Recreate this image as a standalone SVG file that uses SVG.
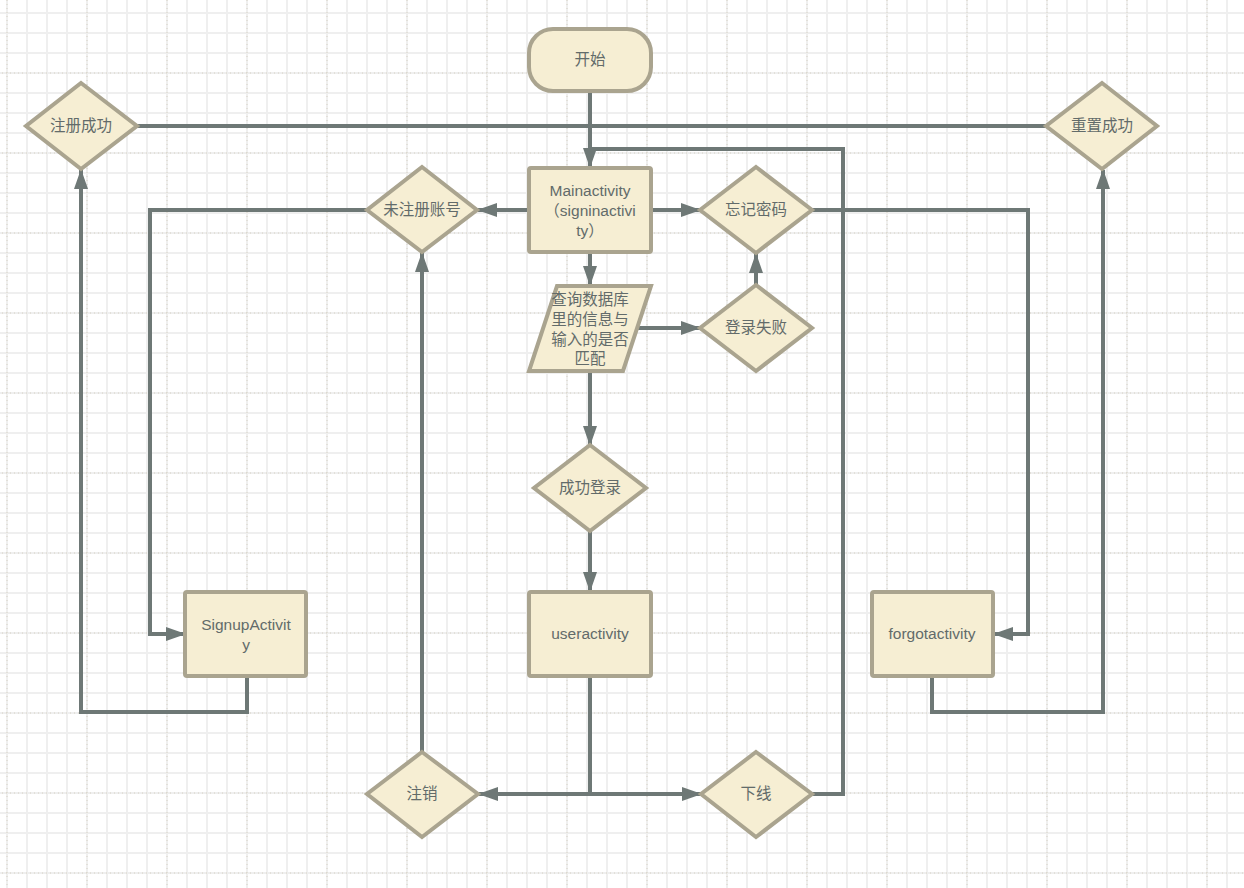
<svg xmlns="http://www.w3.org/2000/svg" width="1244" height="888" viewBox="0 0 1244 888">
<style>
.n{fill:#f6eed3;stroke:#aaa48f;stroke-width:4;stroke-linejoin:miter}
.t{font-family:"Liberation Sans","Noto Sans CJK SC",sans-serif;font-size:15.5px;fill:#626b6a;text-anchor:middle}
.c{fill:none;stroke:#6e7876;stroke-width:4;stroke-linejoin:miter}
.a{marker-end:url(#ah)}
</style>
<defs>
<pattern id="minor" x="6" y="12" width="20" height="20" patternUnits="userSpaceOnUse">
<path d="M1 0V20M0 1H20" stroke="#efefef" stroke-width="2" fill="none"/>
</pattern>
<pattern id="major" x="6" y="72" width="80" height="80" patternUnits="userSpaceOnUse">
<path d="M1 0V80M0 1H80" stroke="#d6d1c4" stroke-width="1" stroke-dasharray="1 3" fill="none"/>
</pattern>
<marker id="ah" markerUnits="userSpaceOnUse" markerWidth="20" markerHeight="14" refX="19" refY="7" orient="auto">
<path d="M0,0 L20,7 L0,14 Z" fill="#6e7876"/>
</marker>
</defs>
<rect width="1244" height="888" fill="#ffffff"/>
<rect width="1244" height="888" fill="url(#minor)"/>
<rect width="1244" height="888" fill="url(#major)"/>

<g id="connectors">
<path class="c" d="M137,126 H1046"/>
<path class="c a" d="M590,91 V167"/>
<path class="c" d="M812,794 H843 V149 H590"/>
<path class="c a" d="M590,252 V285"/>
<path class="c a" d="M638,328 H700"/>
<path class="c a" d="M756,285 V254"/>
<path class="c a" d="M651,210 H700"/>
<path class="c a" d="M529,210 H478"/>
<path class="c a" d="M367,210 H150 V634 H185"/>
<path class="c a" d="M247,677 V712 H81 V170"/>
<path class="c a" d="M812,210 H1028 V634 H994"/>
<path class="c a" d="M932,677 V712 H1103 V170"/>
<path class="c a" d="M590,371 V445"/>
<path class="c a" d="M590,531 V591"/>
<path class="c a" d="M590,677 V794 H479"/>
<path class="c a" d="M590,794 H701"/>
<path class="c a" d="M422,752 V253"/>
</g>

<g id="start">
<rect class="n" x="529" y="29" width="122" height="62" rx="24"/>
<text class="t" x="590" y="65">开始</text>
</g>
<g id="regok">
<polygon class="n" points="81,83 137,126 81,169 26,126"/>
<text class="t" x="81" y="131">注册成功</text>
</g>
<g id="resetok">
<polygon class="n" points="1102,83 1157,126 1102,169 1046,126"/>
<text class="t" x="1102" y="131">重置成功</text>
</g>
<g id="main">
<rect class="n" x="529" y="168" width="122" height="84" rx="2"/>
<text class="t" x="590" y="196">Mainactivity</text>
<text class="t" x="590" y="216">（signinactivi</text>
<text class="t" x="590" y="236">ty）</text>
</g>
<g id="unreg">
<polygon class="n" points="422,167 477,210 422,252 367,210"/>
<text class="t" x="422" y="215">未注册账号</text>
</g>
<g id="forgot">
<polygon class="n" points="756,167 812,210 756,253 700,210"/>
<text class="t" x="756" y="215">忘记密码</text>
</g>
<g id="query">
<polygon class="n" points="557,286 651,286 623,371 529,371"/>
<text class="t" x="590" y="305">查询数据库</text>
<text class="t" x="590" y="325">里的信息与</text>
<text class="t" x="590" y="345">输入的是否</text>
<text class="t" x="590" y="364">匹配</text>
</g>
<g id="fail">
<polygon class="n" points="756,285 812,328 756,371 700,328"/>
<text class="t" x="756" y="333">登录失败</text>
</g>
<g id="success">
<polygon class="n" points="590,445 646,488 590,531 534,488"/>
<text class="t" x="590" y="493">成功登录</text>
</g>
<g id="signup">
<rect class="n" x="185" y="592" width="121" height="84" rx="2"/>
<text class="t" x="246" y="630">SignupActivit</text>
<text class="t" x="246" y="650">y</text>
</g>
<g id="user">
<rect class="n" x="529" y="592" width="122" height="84" rx="2"/>
<text class="t" x="590" y="639">useractivity</text>
</g>
<g id="forgotact">
<rect class="n" x="872" y="592" width="121" height="84" rx="2"/>
<text class="t" x="932" y="639">forgotactivity</text>
</g>
<g id="logout">
<polygon class="n" points="422,752 478,794 422,837 367,794"/>
<text class="t" x="422" y="799">注销</text>
</g>
<g id="offline">
<polygon class="n" points="756,752 812,794 756,837 701,794"/>
<text class="t" x="756" y="799">下线</text>
</g>
</svg>
